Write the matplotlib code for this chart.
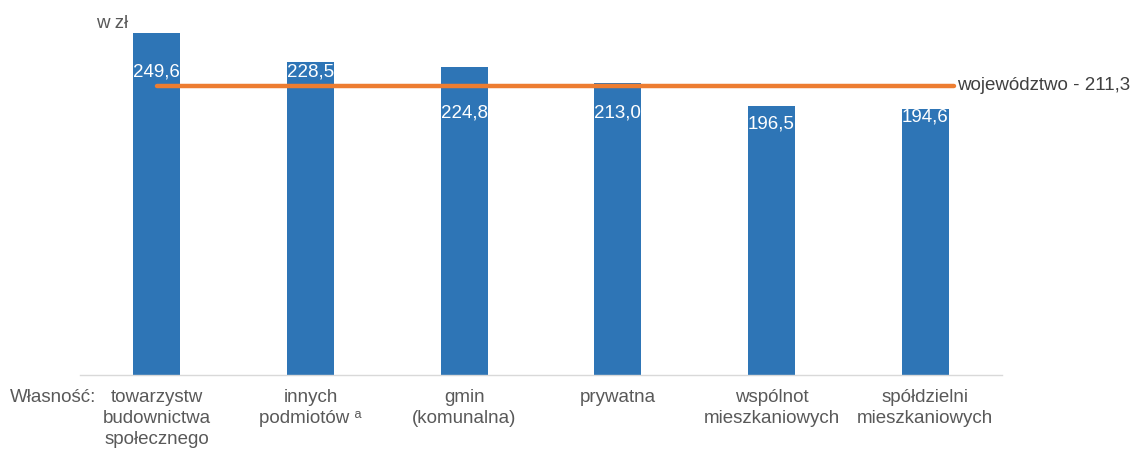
import matplotlib
matplotlib.use("Agg")
import matplotlib.pyplot as plt

categories = ["towarzystw\nbudownictwa\nspołecznego", "innych\npodmiotów ᵃ", "gmin\n(komunalna)",
              "prywatna", "wspólnot\nmieszkaniowych", "spółdzielni\nmieszkaniowych"]
values = [249.6, 228.5, 224.8, 213.0, 196.5, 194.6]
value_labels = ["249,6", "228,5", "224,8", "213,0", "196,5", "194,6"]
label_y = [221.3, 221.3, 191.2, 191.2, 183.3, 188.5]
voivodeship_value = 211.3
voivodeship_label = "województwo - 211,3"

plt.rcParams['font.family'] = ['Liberation Sans', 'DejaVu Sans']
FS = 13.5
GRAY = '#595959'

fig = plt.figure(figsize=(11.32, 4.5), dpi=100)
ax = fig.add_axes([80/1132, 75/450, (1002-80)/1132, (375-19)/450])

x = list(range(len(values)))
ax.bar(x, values, width=0.306, color='#2E75B6', zorder=2)
ax.set_xlim(-0.5, len(values) - 0.5)
ax.set_ylim(0, 260)

line_end = 5.19
ax.plot([0, line_end], [voivodeship_value, voivodeship_value], color='#ED7D31',
        linewidth=3.2, solid_capstyle='round', zorder=3, clip_on=False)
ax.text(line_end + 0.02, voivodeship_value, voivodeship_label, ha='left', va='center',
        fontsize=FS, color='#404040', clip_on=False)

for xi, ly, lab in zip(x, label_y, value_labels):
    ax.text(xi, ly, lab, ha='center', va='center', color='white', fontsize=FS, zorder=4)

for s in ['top', 'right', 'left']:
    ax.spines[s].set_visible(False)
ax.spines['bottom'].set_color('#D9D9D9')
ax.spines['bottom'].set_linewidth(1.0)
ax.set_yticks([])
ax.set_xticks(x)
ax.set_xticklabels(categories, fontsize=FS, color=GRAY, linespacing=1.3)
ax.tick_params(axis='x', length=0, pad=10)

fig.text(10/1132, 1 - 397/450, "Własność:", ha='left', va='center', fontsize=FS, color=GRAY)
fig.text(96/1132, 1 - 23/450, "w zł", ha='left', va='center', fontsize=FS, color=GRAY)

fig.savefig("out.png", dpi=100)
